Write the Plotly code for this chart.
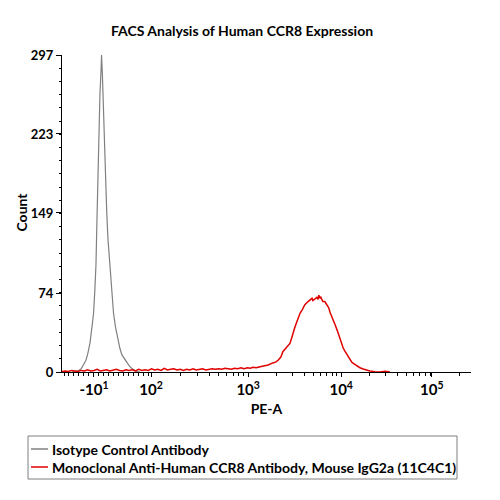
import plotly.graph_objects as go
import numpy as np

# ---- data (display channel units 0..1024 on the biexponential PE-A axis) ----
iso_channel = [25, 35, 40, 48, 55, 60, 65, 70, 75, 79, 82, 85, 88, 90, 93, 95, 98, 99, 101, 103,
               106, 109, 112, 115, 120, 124, 129, 134, 140, 145, 150, 157, 162, 168, 174, 180, 187, 195]
iso_count = [0, 0.5, 1, 3, 7, 11, 18, 27, 42, 55, 75, 100, 150, 190, 224, 260, 285, 297, 280, 250,
             224, 185, 150, 125, 100, 75, 55, 42, 30, 22, 16, 12, 9, 6, 3.5, 2, 0.5, 0]

ccr8_channel = [0, 8, 16, 24, 32, 40, 48, 56, 64, 72, 80, 88, 96, 104, 112, 120, 128, 136, 144, 152,
                160, 168, 176, 184, 192, 200, 208, 216, 224, 232, 240, 248, 256, 264, 272, 280, 288,
                296, 304, 312, 320, 328, 336, 344, 352, 360, 368, 376, 384, 392, 400, 408, 416, 424,
                432, 440, 448, 456, 464, 472, 478, 486, 496, 506, 516, 528, 536, 541, 548, 553, 558,
                563, 568, 571, 576, 578, 583, 588, 593, 596, 601, 603, 608, 616, 621, 626, 628, 633,
                638, 641, 643, 646, 648, 653, 658, 663, 668, 671, 676, 678, 684, 689, 694, 696, 701,
                704, 709, 714, 719, 726, 734, 739, 746, 754, 761, 771, 784, 796, 809, 821]
ccr8_count = [0.5, 1, 0.5, 1.5, 1, 0.5, 1.5, 1, 2, 1, 1.5, 2.5, 1, 1.5, 2, 1, 1.5, 2.5, 1.5, 1,
              2, 1.5, 2, 1, 2.5, 1.5, 2, 1.5, 3, 2, 2.5, 1.5, 3.5, 2, 2.5, 3, 2,
              2.5, 1.5, 2.5, 2, 3, 2, 2.5, 3, 2, 2.5, 3, 2.5, 3, 2.5, 3.5, 3, 2.5,
              3.5, 3, 4, 3, 4, 3.5, 4.5, 4, 5, 5.5, 6.5, 8.5, 9.5, 11, 14, 19, 21,
              23, 25, 27, 33, 36, 42, 47, 52, 55, 58, 60, 63, 66, 68, 69, 67, 69,
              70, 68, 72, 69, 70, 66, 66, 63, 60, 56, 52, 49, 44, 39, 33, 30, 25,
              22.5, 19, 16, 12, 9, 7, 5.5, 4, 2.8, 2, 1, 0.3, 0, 0.8, 0]

# ---- axis tick labels ----
x_tick_channels = [80, 223, 466, 699, 926]
x_tick_labels = ["-10<sup>1</sup>", "10<sup>2</sup>", "10<sup>3</sup>", "10<sup>4</sup>", "10<sup>5</sup>"]
y_tick_values = [0, 74, 149, 223, 297]

series_names = ["Isotype Control Antibody",
                "Monoclonal Anti-Human CCR8 Antibody, Mouse IgG2a (11C4C1)"]
series_colors = ["#808080", "#e00000"]

# minor ticks along the biexponential axis
decade = 233.0
minor_x = list(np.arange(5, 220, 12.5))
minor_x += [223 + 243 * np.log10(k) for k in range(2, 10)]
minor_x += [466 + decade * np.log10(k) for k in range(2, 10)]
minor_x += [699 + decade * np.log10(k) for k in range(2, 10)]
minor_x += [926 + decade * np.log10(2)]

FONT = "Lato"
BOLD = dict(family=FONT, size=14, weight="bold", color="black")

# page body adds an 8px offset; figure coordinates are compensated for it
W = H = 492
OFF = 8
PX0, PX1, PY0, PY1 = 62, 471, 55, 372   # plot area on the page


def px(xp):
    return (xp - PX0) / (PX1 - PX0)


def py(yp):
    return (PY1 - yp) / (PY1 - PY0)


fig = go.Figure()
fig.add_trace(go.Scatter(x=iso_channel, y=iso_count, mode="lines", name=series_names[0],
                         line=dict(color=series_colors[0], width=1.2), showlegend=False))
fig.add_trace(go.Scatter(x=ccr8_channel, y=ccr8_count, mode="lines", name=series_names[1],
                         line=dict(color=series_colors[1], width=1.5), showlegend=False))

# legend box below the plot
shapes = [dict(type="rect", xref="paper", yref="paper", x0=px(28), x1=px(457), y0=py(479), y1=py(436),
               line=dict(color="#7f7f7f", width=1), fillcolor="rgba(0,0,0,0)")]
annotations = []
for i, (name, col) in enumerate(zip(series_names, series_colors)):
    yy = py(449 + 18 * i)
    shapes.append(dict(type="line", xref="paper", yref="paper", x0=px(31), x1=px(48), y0=yy, y1=yy,
                       line=dict(color=col, width=1.5)))
    annotations.append(dict(text=name, xref="paper", yref="paper", x=px(50), y=yy,
                            xanchor="left", yanchor="middle", showarrow=False, font=BOLD))

# y-axis title
annotations.append(dict(text="Count", xref="paper", yref="paper", x=px(31), y=py(212),
                        xanchor="right", yanchor="middle", textangle=-90, showarrow=False, font=BOLD))

fig.update_layout(
    width=W, height=H,
    margin=dict(l=PX0 - OFF, r=W - (PX1 - OFF), t=PY0 - OFF, b=H - (PY1 - OFF), autoexpand=False),
    paper_bgcolor="white", plot_bgcolor="white",
    font=dict(family=FONT, size=14, color="black"),
    title=dict(text="FACS Analysis of Human CCR8 Expression", x=(242 - OFF) / W, xanchor="center",
               y=1 - (31 - OFF) / H, yanchor="middle", font=BOLD),
    showlegend=False,
    shapes=shapes, annotations=annotations,
    xaxis=dict(range=[0, 1024], showgrid=False, zeroline=False,
               showline=True, linecolor="black", linewidth=1,
               tickmode="array", tickvals=x_tick_channels, ticktext=x_tick_labels,
               ticks="outside", ticklen=4, tickcolor="black", tickwidth=1,
               tickfont=dict(family=FONT, size=15, weight="bold", color="black"),
               minor=dict(tickmode="array", tickvals=minor_x, ticks="outside",
                          ticklen=3, tickcolor="black", showgrid=False),
               title=dict(text="PE-A", standoff=7, font=BOLD)),
    yaxis=dict(range=[0, 297], showgrid=False, zeroline=False,
               showline=True, linecolor="black", linewidth=1,
               tickmode="array", tickvals=y_tick_values,
               ticks="outside", ticklen=5, tickcolor="black", tickwidth=1,
               tickfont=dict(family=FONT, size=13, weight="bold", color="black"),
               minor=dict(tickmode="linear", tick0=0, dtick=297 / 24, ticks="outside",
                          ticklen=2, tickcolor="black", showgrid=False)),
)

fig.write_html("out.html")
